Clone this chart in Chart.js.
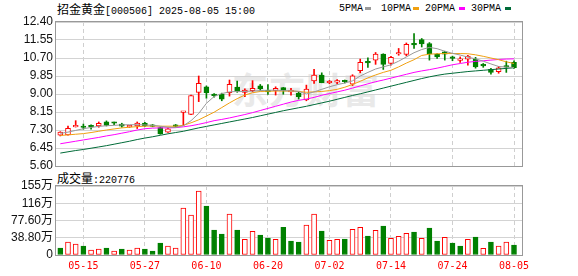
<!DOCTYPE html>
<html>
<head>
<meta charset="utf-8">
<script src="https://cdn.jsdelivr.net/npm/chart.js@4.4.1/dist/chart.umd.min.js"></script>
<style>
  body { margin: 0; background: #fff; width: 578px; height: 276px; position: relative; overflow: hidden; }
  .abs { position: absolute; white-space: nowrap; line-height: 16px; height: 16px; color: #000; }
  .cn { font-family: "Noto Sans CJK SC", sans-serif; font-size: 12px; }
  .mono { font-family: "Liberation Mono", monospace; font-size: 10px; }
  .dash { position: absolute; width: 6px; height: 3px; top: 7px; }
  canvas { position: absolute; left: 0; }
  #mark { position: absolute; left: 232px; top: 68px; font-family: "Noto Sans CJK SC"; font-weight: bold;
          font-size: 36px; line-height: 40px; color: #e9e9e9; letter-spacing: 1px; }
</style>
</head>
<body>
<div id="mark">东方财富</div>

<div class="abs" style="left:57px;top:1px"><span class="cn">招金黄金</span><span class="mono">[000506] 2025-08-05 15:00</span></div>

<div class="abs mono" style="left:339px;top:1px">5PMA</div>
<div class="dash" style="left:365px;background:#999"></div>
<div class="abs mono" style="left:381px;top:1px">10PMA</div>
<div class="dash" style="left:413px;background:#f0a010"></div>
<div class="abs mono" style="left:425px;top:1px">20PMA</div>
<div class="dash" style="left:459px;background:#ff00ff"></div>
<div class="abs mono" style="left:471px;top:1px">30PMA</div>
<div class="dash" style="left:505px;background:#006b38"></div>

<div class="abs" style="left:57px;top:170px"><span class="cn">成交量</span><span class="mono">:220776</span></div>

<canvas id="priceChart" width="578" height="180" style="top:0"></canvas>
<canvas id="volChart" width="578" height="104" style="top:172px"></canvas>

<script>
// trading days shown on the chart
const dates = [
  '05-12','05-13','05-14','05-15','05-16','05-19','05-20','05-21','05-22','05-23',
  '05-26','05-27','05-28','05-29','06-03','06-04','06-05','06-06','06-09','06-10',
  '06-11','06-12','06-13','06-16','06-17','06-18','06-19','06-20','06-23','06-24',
  '06-25','06-26','06-27','06-30','07-01','07-02','07-03','07-04','07-07','07-08',
  '07-09','07-10','07-11','07-14','07-15','07-16','07-17','07-18','07-21','07-22',
  '07-23','07-24','07-25','07-28','07-29','07-30','07-31','08-01','08-04','08-05'
];
const tickDays = [3, 11, 19, 27, 35, 43, 51, 59];   // 05-15 ... 08-05

const opens = [
  7.05, 7.07, 7.45, 7.44, 7.50, 7.49, 7.68, 7.66, 7.58, 7.45,
  7.49, 7.63, 7.52, 7.41, 7.20, 7.53, 8.13, 8.04, 9.08, 9.34,
  8.96, 9.00, 9.06, 9.33, 9.08, 9.16, 9.38, 9.13, 9.16, 9.30,
  9.10, 9.03, 8.72, 9.62, 9.89, 9.53, 9.56, 9.62, 9.47, 10.10,
  10.50, 10.60, 10.88, 10.44, 10.89, 10.87, 11.35, 11.57, 11.38, 10.87,
  10.99, 10.70, 10.59, 10.65, 10.65, 10.36, 10.16, 10.05, 10.30, 10.49
];
const highs = [
  7.22, 7.49, 7.74, 7.58, 7.55, 7.68, 7.73, 7.67, 7.62, 7.52,
  7.68, 7.66, 7.56, 7.45, 7.40, 7.56, 8.17, 8.95, 9.85, 9.38,
  9.02, 9.04, 9.66, 9.61, 9.25, 9.63, 9.45, 9.45, 9.34, 9.31,
  9.27, 9.11, 9.42, 10.16, 10.00, 9.64, 9.68, 9.66, 9.91, 10.65,
  10.71, 10.96, 10.90, 10.78, 11.15, 11.41, 11.85, 11.62, 11.43, 10.91,
  11.02, 10.79, 10.75, 10.83, 10.73, 10.44, 10.21, 10.30, 10.55, 10.57
];
const lows = [
  7.02, 7.05, 7.44, 7.34, 7.34, 7.43, 7.49, 7.55, 7.43, 7.42,
  7.37, 7.46, 7.45, 7.10, 7.18, 7.44, 7.51, 8.02, 8.64, 8.80,
  8.85, 8.68, 8.90, 9.08, 8.87, 9.10, 9.17, 8.98, 8.95, 8.99,
  8.95, 8.76, 8.68, 9.50, 9.53, 9.48, 9.48, 9.52, 9.40, 10.00,
  10.26, 10.40, 10.16, 10.36, 10.83, 10.80, 11.15, 11.22, 10.60, 10.68,
  10.60, 10.57, 10.49, 10.36, 10.22, 10.26, 9.94, 9.98, 10.02, 10.21
];
const closes = [
  7.20, 7.38, 7.47, 7.42, 7.45, 7.62, 7.52, 7.62, 7.48, 7.50,
  7.63, 7.49, 7.47, 7.12, 7.35, 7.47, 8.17, 8.93, 9.50, 9.06,
  8.92, 8.75, 9.46, 9.16, 9.19, 9.27, 9.25, 9.10, 9.27, 9.16,
  9.12, 8.87, 9.23, 9.89, 9.53, 9.56, 9.60, 9.58, 9.86, 10.49,
  10.47, 10.88, 10.40, 10.73, 10.91, 11.34, 11.32, 11.37, 10.91, 10.75,
  10.88, 10.68, 10.61, 10.79, 10.28, 10.33, 10.02, 10.24, 10.27, 10.24
];
const closeBefore = 7.28; // close of the day before the first bar

// volume in 万 (10k shares)
const volumes = [
  15.7, 29.2, 24.7, 20.2, 11.2, 13.5, 15.7, 9.0, 13.5, 11.2,
  15.7, 13.5, 9.0, 27.0, 20.2, 15.7, 105.6, 89.9, 143.8, 110.1,
  56.2, 47.2, 92.1, 56.2, 35.2, 53.2, 44.9, 38.2, 35.2, 62.2,
  31.5, 29.2, 67.4, 92.1, 53.9, 33.0, 35.2, 36.0, 57.7, 62.2,
  42.7, 55.4, 65.2, 37.5, 41.9, 48.7, 51.7, 37.5, 60.7, 31.5,
  39.7, 27.0, 20.2, 35.2, 40.4, 15.0, 29.2, 20.2, 29.2, 22.08
];

const ma5 = [
  7.14, 7.20, 7.28, 7.36, 7.42, 7.47, 7.50, 7.52, 7.54, 7.55,
  7.55, 7.54, 7.52, 7.48, 7.43, 7.42, 7.50, 7.74, 8.08, 8.56,
  8.88, 9.02, 9.10, 9.12, 9.12, 9.14, 9.16, 9.18, 9.18, 9.16,
  9.15, 9.12, 9.00, 9.10, 9.22, 9.34, 9.44, 9.52, 9.62, 9.85,
  10.02, 10.18, 10.28, 10.38, 10.55, 10.75, 10.95, 11.10, 11.20, 11.14,
  11.02, 10.92, 10.84, 10.74, 10.66, 10.55, 10.42, 10.30, 10.27, 10.25
];
const ma10 = [
  7.04, 7.07, 7.10, 7.13, 7.18, 7.24, 7.30, 7.35, 7.40, 7.43,
  7.46, 7.48, 7.49, 7.48, 7.48, 7.48, 7.52, 7.64, 7.78, 7.96,
  8.14, 8.36, 8.58, 8.78, 8.95, 9.06, 9.12, 9.13, 9.14, 9.14,
  9.14, 9.12, 9.08, 9.10, 9.12, 9.16, 9.22, 9.32, 9.45, 9.60,
  9.76, 9.90, 10.02, 10.12, 10.28, 10.46, 10.62, 10.82, 10.88, 10.90,
  10.91, 10.91, 10.91, 10.90, 10.85, 10.78, 10.70, 10.62, 10.52, 10.44
];
const ma20 = [
  6.65, 6.71, 6.77, 6.83, 6.89, 6.95, 7.02, 7.08, 7.15, 7.22,
  7.30, 7.36, 7.39, 7.40, 7.40, 7.41, 7.45, 7.50, 7.57, 7.65,
  7.74, 7.80, 7.87, 7.95, 8.03, 8.12, 8.22, 8.32, 8.42, 8.52,
  8.62, 8.70, 8.76, 8.84, 8.94, 9.02, 9.10, 9.18, 9.28, 9.38,
  9.48, 9.58, 9.66, 9.75, 9.84, 9.93, 10.02, 10.09, 10.15, 10.22,
  10.30, 10.38, 10.44, 10.50, 10.54, 10.57, 10.60, 10.63, 10.65, 10.66
];
const ma30 = [
  6.21, 6.27, 6.33, 6.38, 6.44, 6.50, 6.56, 6.63, 6.70, 6.77,
  6.85, 6.92, 6.98, 7.05, 7.12, 7.18, 7.24, 7.32, 7.40, 7.47,
  7.54, 7.61, 7.68, 7.75, 7.82, 7.89, 7.97, 8.05, 8.13, 8.21,
  8.28, 8.35, 8.42, 8.50, 8.58, 8.66, 8.75, 8.84, 8.93, 9.01,
  9.10, 9.19, 9.28, 9.37, 9.46, 9.55, 9.64, 9.73, 9.81, 9.88,
  9.94, 9.98, 10.02, 10.06, 10.09, 10.12, 10.15, 10.18, 10.21, 10.24
];

const priceTicks = [5.60, 6.45, 7.30, 8.15, 9.00, 9.85, 10.70, 11.55, 12.40];
const volTicks = [0, 38.8, 77.6, 116.4, 155.2];
const volTickLabels = ['0', '38.80万', '77.60万', '116万', '155万'];

const RED = '#ff0000';
const GREEN = '#008000';
const GRID = '#d3d3d3';
const FONT = "'Liberation Sans', 'Noto Sans CJK SC', sans-serif";

const candleUp = opens.map((o, i) => closes[i] >= o);
const volUp = closes.map((c, i) => c >= (i === 0 ? closeBefore : closes[i - 1]));

// draws the grey frame round the plot
const frame = {
  id: 'frame',
  afterDatasetsDraw(chart) {
    const { ctx, chartArea: a } = chart;
    ctx.save();
    ctx.strokeStyle = '#999';
    ctx.lineWidth = 1;
    ctx.strokeRect(Math.round(a.left) - 0.5, Math.round(a.top) - 0.5,
      Math.round(a.right - a.left) + 1, Math.round(a.bottom - a.top) + 1);
    ctx.restore();
  }
};

function xScale(showLabels) {
  return {
    type: 'linear',
    min: -0.56,
    max: 60.04,
    offset: false,
    afterBuildTicks: s => { s.ticks = tickDays.map(v => ({ value: v })); },
    afterFit: s => { s.height = showLabels ? 21 : 0; },
    grid: { offset: false, color: '#cfcfcf', drawTicks: false },
    border: { display: false, dash: [4, 3] },
    ticks: {
      display: showLabels,
      autoSkip: false,
      maxRotation: 0,
      padding: 5,
      color: RED,
      font: { family: "'DejaVu Sans Mono', monospace", size: 10 },
      callback: v => dates[v]
    }
  };
}

function yScale(min, max, ticks, label) {
  return {
    min: min,
    max: max,
    afterBuildTicks: s => { s.ticks = ticks.map(v => ({ value: v })); },
    afterFit: s => { s.width = 56; },
    grid: { color: GRID, drawTicks: false },
    border: { display: false },
    ticks: {
      autoSkip: false,
      padding: 3,
      color: '#111',
      font: { family: FONT, size: 12 },
      callback: label
    }
  };
}

function ma(label, values, color) {
  return {
    type: 'line',
    label: label,
    data: values.map((v, i) => ({ x: i, y: v })),
    borderColor: color,
    borderWidth: 1,
    pointRadius: 0,
    tension: 0,
    order: 0
  };
}

new Chart(document.getElementById('priceChart'), {
  type: 'bar',
  data: {
    datasets: [
      ma('5PMA', ma5, '#999999'),
      ma('10PMA', ma10, '#f0a010'),
      ma('20PMA', ma20, '#ff00ff'),
      ma('30PMA', ma30, '#006b38'),
      {
        label: 'body',
        data: dates.map((d, i) => ({ x: i, y: [opens[i], closes[i]] })),
        backgroundColor: candleUp.map(u => u ? '#fff' : GREEN),
        borderColor: candleUp.map(u => u ? RED : GREEN),
        borderWidth: 1,
        borderSkipped: false,
        barThickness: 5,
        minBarLength: 1.5,
        grouped: false,
        order: 1
      },
      {
        label: 'wick',
        data: dates.map((d, i) => ({ x: i, y: [lows[i], highs[i]] })),
        backgroundColor: candleUp.map(u => u ? RED : GREEN),
        borderWidth: 0,
        barThickness: 1,
        grouped: false,
        order: 2
      }
    ]
  },
  options: {
    responsive: false,
    animation: false,
    layout: { padding: { top: 22, right: 56, bottom: 14, left: 0 } },
    plugins: { legend: { display: false }, tooltip: { enabled: false } },
    scales: {
      x: xScale(false),
      y: yScale(5.6, 12.4, priceTicks, v => v.toFixed(2))
    }
  },
  plugins: [frame]
});

new Chart(document.getElementById('volChart'), {
  type: 'bar',
  data: {
    datasets: [{
      label: 'volume',
      data: volumes.map((v, i) => ({ x: i, y: v })),
      backgroundColor: volUp.map(u => u ? '#fff' : GREEN),
      borderColor: volUp.map(u => u ? RED : GREEN),
      borderWidth: 1,
      borderSkipped: false,
      barThickness: 5
    }]
  },
  options: {
    responsive: false,
    animation: false,
    layout: { padding: { top: 14, right: 56, bottom: 0, left: 0 } },
    plugins: { legend: { display: false }, tooltip: { enabled: false } },
    scales: {
      x: xScale(true),
      y: yScale(0, 155.2, volTicks, (v, i) => volTickLabels[i])
    }
  },
  plugins: [frame]
});
</script>
</body>
</html>
